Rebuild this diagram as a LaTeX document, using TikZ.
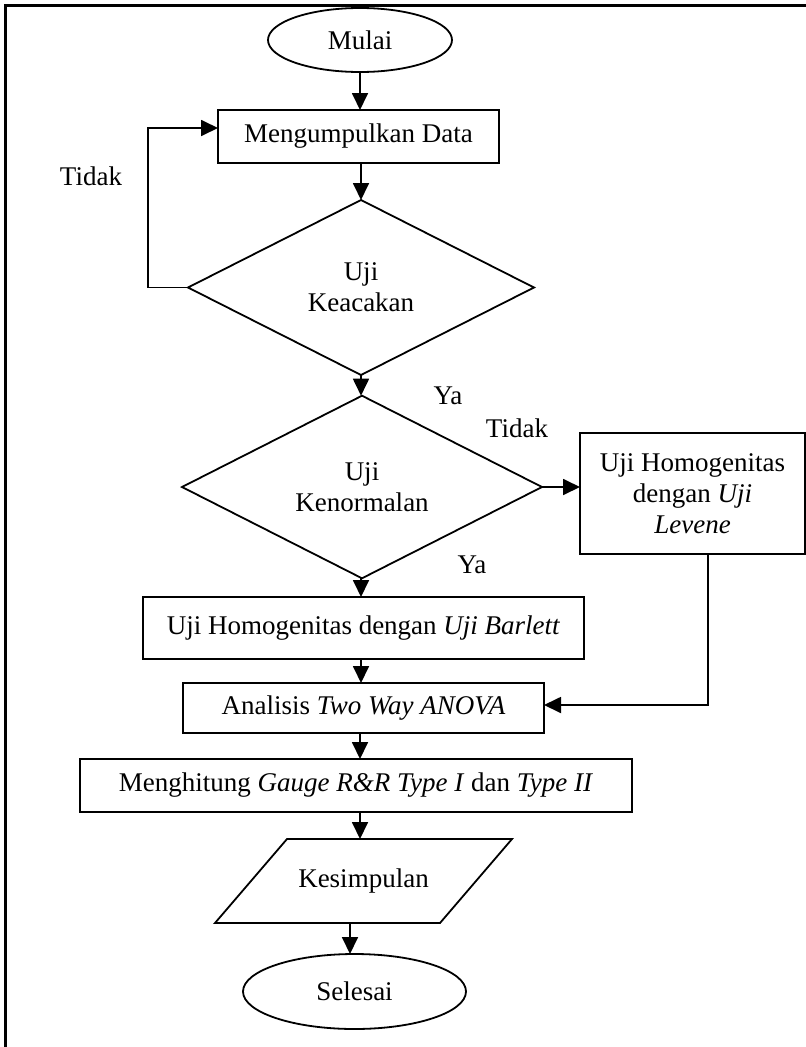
\documentclass[tikz,border=0pt]{standalone}
\usepackage{fontspec}
\setmainfont{Liberation Serif}
\usetikzlibrary{shapes.geometric,arrows.meta}
\begin{document}
\begin{tikzpicture}[x=1pt,y=-1pt,
  font=\fontsize{27}{31}\selectfont,
  every node/.style={inner sep=0pt, outer sep=0pt},
  shp/.style={draw, line width=1.8pt, align=center},
  box/.style={shp, rectangle},
  term/.style={shp, ellipse},
  dec/.style={shp, diamond},
  arr/.style={line width=1.8pt, -{Triangle[length=17pt,width=16pt]}},
  ln/.style={line width=1.8pt}]

% page area and outer frame
\useasboundingbox (0,0) rectangle (806,1047);
\clip (0,0) rectangle (806,1047);
\draw[line width=3pt] (5,5) rectangle (820,1070);

% process steps
\node[term, minimum width=184pt, minimum height=64pt] (mulai) at (360,40) {Mulai};
\node[box, minimum width=281pt, minimum height=53pt] (data) at (358.5,136.5) {Mengumpulkan Data};
\node[dec, minimum width=346pt, minimum height=175pt] (acak) at (361,287.5) {Uji\\Keacakan};
\node[dec, minimum width=360pt, minimum height=154pt] (normal) at (362,487) {Uji\\Kenormalan};
\node[box, minimum width=225pt, minimum height=121pt] (levene) at (692.5,493.5)
  {Uji Homogenitas\\dengan \textit{Uji}\\\textit{Levene}};
\node[box, minimum width=441pt, minimum height=62pt] (barlett) at (363.5,628)
  {Uji Homogenitas dengan \textit{Uji Barlett}};
\node[box, minimum width=361pt, minimum height=50pt] (anova) at (363.5,708)
  {Analisis \textit{Two Way ANOVA}};
\node[box, minimum width=552pt, minimum height=53pt] (gauge) at (356,785.5)
  {Menghitung \textit{Gauge R\&R Type I} dan \textit{Type II}};

% output: parallelogram
\draw[ln, line join=miter] (287,839) -- (512,839) -- (440,923) -- (215,923) -- cycle;
\node (kes) at (363.5,881) {Kesimpulan};
\coordinate (kesT) at (360,839);
\coordinate (kesB) at (350,923);

\node[term, minimum width=223pt, minimum height=75pt] (selesai) at (354.5,991.5) {Selesai};

% connectors
\draw[arr] (mulai.south) -- (mulai.south |- data.north);
\draw[arr] (acak.north |- data.south) -- (acak.north);
\coordinate (loop) at (148,128);
\draw[arr] (acak.west) -| (loop) -- (data.west |- loop);
\draw[arr] (acak.south) -- (normal.north -| acak.south);
\draw[arr] (normal.east) -- (levene.west |- normal.east);
\draw[arr] (normal.south -| acak.south) -- (barlett.north -| acak.south);
\draw[arr] (barlett.south -| acak.south) -- (anova.north -| acak.south);
\draw[arr] ([xshift=15.5pt]levene.south) |- ([yshift=3pt]anova.east);
\draw[arr] (anova.south -| kesT) -- (gauge.north -| kesT);
\draw[arr] (gauge.south -| kesT) -- (kesT);
\draw[arr] (kesB) -- (selesai.north -| kesB);

% branch labels
\node (t1) at (91,176) {Tidak};
\node (y1) at (448,396) {Ya};
\node (t2) at (517,428) {Tidak};
\node (y2) at (472,565) {Ya};
\end{tikzpicture}
\end{document}
